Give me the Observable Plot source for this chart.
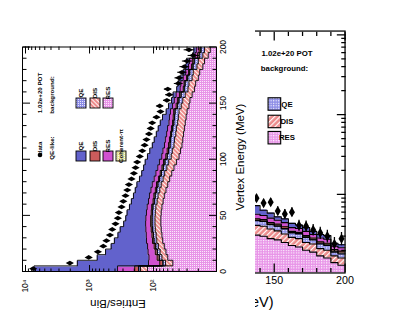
<!DOCTYPE html>
<html><head><meta charset="utf-8">
<script src="https://cdn.jsdelivr.net/npm/d3@7"></script>
<script src="https://cdn.jsdelivr.net/npm/@observablehq/plot@0.6"></script>
<style>
html,body{margin:0;padding:0;background:#fff;}
#root{position:relative;width:407px;height:322px;overflow:hidden;background:#fff;}
#right{position:absolute;left:-2.1px;top:2.6px;transform:scale(1.262,1.247);transform-origin:0 0;}
#left{position:absolute;left:0;top:0;width:255px;height:322px;background:#fff;overflow:hidden;}
#left svg{position:absolute;left:0;top:0;transform:translate(0px,322px) rotate(-90deg);transform-origin:0 0;}
</style></head><body><div id="root"><div id="right"></div><div id="left"></div></div>
<script>
// bin low edges (MeV), 5 MeV bins
const binLow = [0,5,10,15,20,25,30,35,40,45,50,55,60,65,70,75,80,85,90,95,100,105,110,115,120,125,130,135,140,145,150,155,160,165,170,175,180,185,190,195];
// data (entries/bin)
const dataVals = [7600,2030,1030,740,610,545,480,442,393,361,348,316,297,274,257,243,221,203,191,180,164,150,138,129,118,111,105,90,78,80,62,57,60,41,40,36,33,30,24,28];
// background components
const resBkg = [124,50,60,64,68,72,74,76,77,77,76,74,71,68,64,60,56,52,48,44,40,38,36,35,34,33,32,31,30,28,27,25,23,22,20,19,17,16,14,13];
const disBkg = [36,15,14,15,16,17,17,18,18,18,18,18,17,17,16,16,15,15,14,14,13,13,12,12,11,11,10,10,10,9,8,7,6,6,5,5,4,4,3,3];
const qeBkg  = [10,6,7,8,8,9,9,9,10,10,10,10,9,9,9,9,9,8,8,8,8,7,7,7,7,6,6,6,6,5,5,5,4,4,4,3,3,3,2,2];
// QE-like (signal) components
const cohSig = [2,1,1,1,1,1,1,1,1,1,1,1,1,1,1,1,1,1,1,1,0.5,0.5,0.5,0.5,0.5,0.5,0.5,0.5,0.5,0.5,0.5,0.5,0.5,0.5,0.5,0.5,0.5,0.5,0.5,0.5];
const disSig = [25,8,6,6,5,5,5,5,5,5,4,4,4,4,4,4,3,3,3,3,3,3,3,2,2,2,2,2,2,2,2,2,1,1,1,1,1,1,1,1];
const resSig = [168,40,30,28,26,25,24,23,22,21,20,19,18,17,16,15,14,13,12,11,10,10,9,9,8,8,7,7,6,6,5,5,4,4,4,3,3,3,2,2];
const qeSig  = [7000,1430,640,440,335,280,230,200,160,140,130,112,102,90,83,77,68,61,57,54,50,43,37,32,28,24,21,16,9,8,5,5,5,4,4,3,3,3,2,2];

const energyMajor = [0,50,100,150,200];
const energyMinor = [10,20,30,40,60,70,80,90,110,120,130,140,160,170,180,190];
const logMajor = [100,1000,10000];
const logMinor = [20,30,40,50,60,70,80,90,200,300,400,500,600,700,800,900,2000,3000,4000,5000,6000,7000,8000,9000];
const logLabels = {100:"10²",1000:"10³",10000:"10⁴"};
const Y_MIN = 10.4, Y_MAX = 11140;
const FONT = "Liberation Sans, Arial, Helvetica, sans-serif";

function makeChart(s){
  const layers = [
    {vals:resBkg, fill:`url(#resb${s})`},
    {vals:disBkg, fill:`url(#disb${s})`},
    {vals:qeBkg,  fill:`url(#qeb${s})`},
    {vals:cohSig, fill:`url(#coh${s})`},
    {vals:disSig, fill:"#cc5c5c"},
    {vals:resSig, fill:"#d052d0"},
    {vals:qeSig,  fill:"#6262cc"}
  ];
  let cum = binLow.map(()=>0);
  layers.forEach(L=>{
    const lo = cum.map(c=>c===0?Y_MIN:c);
    cum = cum.map((c,i)=>c+L.vals[i]);
    const pts = binLow.map((b,i)=>({x:b, lo:lo[i], hi:cum[i]}));
    pts.push({x:200, lo:lo[lo.length-1], hi:cum[cum.length-1]});
    L.pts = pts;
  });
  const dataRows = binLow.map((b,i)=>({x:b+2.5, v:dataVals[i]}));
  const marks = [];
  layers.forEach(L=>marks.push(Plot.areaY(L.pts,{x:"x",y1:"lo",y2:"hi",curve:"step-after",fill:L.fill})));
  layers.forEach(L=>marks.push(Plot.line(L.pts,{x:"x",y:"hi",curve:"step-after",stroke:"black",strokeWidth:0.9})));
  marks.push(Plot.ruleX(dataRows,{x:"x",y1:d=>d.v-Math.sqrt(d.v),y2:d=>d.v+Math.sqrt(d.v),stroke:"black",strokeWidth:1}));
  marks.push(Plot.dot(dataRows,{x:"x",y:"v",symbol:"diamond",r:2.5,fill:"black",stroke:"none"}));
  // inward ticks
  const blank = ()=>"";
  for (const a of ["bottom","top"]) {
    marks.push(Plot.axisX({anchor:a,ticks:energyMinor,tickSize:-3.5,tickFormat:blank,label:null}));
    marks.push(Plot.axisX({anchor:a,ticks:energyMajor,tickSize:-7,tickFormat:blank,label:null}));
  }
  for (const a of ["left","right"]) {
    marks.push(Plot.axisY({anchor:a,ticks:logMinor,tickSize:-3.5,tickFormat:blank,label:null}));
    marks.push(Plot.axisY({anchor:a,ticks:logMajor,tickSize:-7,tickFormat:blank,label:null}));
  }
  marks.push(Plot.axisX({anchor:"bottom",ticks:energyMajor,tickSize:0,tickPadding:3,fontSize:8.5,label:null}));
  marks.push(Plot.axisY({anchor:"left",ticks:logMajor,tickSize:0,tickPadding:8,fontSize:8.5,tickFormat:d=>logLabels[d],label:null}));
  marks.push(Plot.frame({stroke:"black",strokeWidth:1}));
  const svg = Plot.plot({
    width:322,height:255,marginLeft:50,marginRight:47.5,marginTop:22,marginBottom:39,
    x:{domain:[0,200]}, y:{type:"log",domain:[Y_MIN,Y_MAX]},
    style:{fontFamily:FONT,color:"black",background:"white"},
    marks
  });
  svg.style.maxWidth="none";
  svg.style.height="255px";
  svg.style.width="322px";
  const root = d3.select(svg);
  const defs = root.append("defs");
  function dots(id, base){
    const p = defs.append("pattern").attr("id",id).attr("width",2).attr("height",2).attr("patternUnits","userSpaceOnUse");
    p.append("rect").attr("width",2).attr("height",2).attr("fill",base);
    p.append("rect").attr("width",0.9).attr("height",0.9).attr("fill","white");
  }
  function hatch(id, base){
    const p = defs.append("pattern").attr("id",id).attr("width",3).attr("height",3).attr("patternUnits","userSpaceOnUse").attr("patternTransform","rotate(45)");
    p.append("rect").attr("width",3).attr("height",3).attr("fill",base);
    p.append("rect").attr("width",0.9).attr("height",3).attr("fill","white");
  }
  dots(`resb${s}`,"#e894e8");
  hatch(`disb${s}`,"#ec8c8c");
  dots(`qeb${s}`,"#8c8ce6");
  dots(`coh${s}`,"#e2e29a");
  // titles
  root.append("text").attr("x",165).attr("y",244).attr("text-anchor","middle")
    .attr("font-family",FONT).attr("font-size",11.5).text("Vertex Energy (MeV)");
  root.append("text").attr("transform","translate(22,118) rotate(-90)").attr("text-anchor","middle")
    .attr("font-family",FONT).attr("font-size",11.5).text("Entries/Bin");
  // legend
  const g = root.append("g").attr("font-family",FONT).attr("font-size",6.2).attr("font-weight","bold");
  const t = (x,y,str)=>g.append("text").attr("x",x).attr("y",y).attr("dy","0.35em").text(str);
  const box = (x,y,fill)=>g.append("rect").attr("x",x).attr("y",y-5).attr("width",10).attr("height",10).attr("fill",fill).attr("stroke","black").attr("stroke-width",0.9);
  g.append("circle").attr("cx",167).attr("cy",40).attr("r",2.3).attr("fill","black");
  t(174,40,"data");
  t(174,52,"QE-like:");
  const sigRows = [[81,"#6262cc","QE"],[95,"#cc5c5c","DIS"],[108,"#d052d0","RES"],[121,`url(#coh${s})`,"Coherent-π"]];
  sigRows.forEach(([y,f,l])=>{box(161,y,f); t(176,y,l);});
  t(229,40,"1.02e+20 POT");
  t(227,52,"background:");
  const bkgRows = [[81,`url(#qeb${s})`,"QE"],[95,`url(#disb${s})`,"DIS"],[108,`url(#resb${s})`,"RES"]];
  bkgRows.forEach(([y,f,l])=>{box(214,y,f); t(229,y,l);});
  return svg;
}
document.getElementById("right").appendChild(makeChart("R"));
document.getElementById("left").appendChild(makeChart("L"));
</script></body></html>
